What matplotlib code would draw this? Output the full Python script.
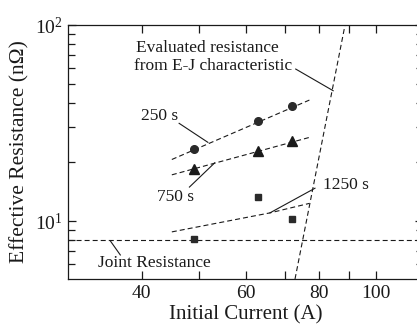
import numpy as np
import matplotlib
matplotlib.use('Agg')
import matplotlib.pyplot as plt

plt.rcParams['font.family'] = ['Liberation Serif', 'DejaVu Serif']
plt.rcParams['mathtext.fontset'] = 'custom'
plt.rcParams['mathtext.rm'] = 'Liberation Serif'
plt.rcParams['mathtext.it'] = 'Liberation Serif:italic'
plt.rcParams['lines.scale_dashes'] = False

ink = '#1a1a1a'

# measured points (initial current in A, effective resistance in nOhm)
currents = [49, 63, 72]
r_250 = [23.4, 32.3, 38.6]
r_750 = [18.5, 22.7, 25.5]
r_1250 = [8.1, 13.3, 10.2]

# guide lines through the points
fit_x = [45, 77]
fit_250 = [20.6, 41.4]
fit_750 = [17.2, 26.7]
curve_1250_x = [45, 66, 77]
curve_1250_y = [8.8, 11.0, 12.3]

# joint resistance and E-J evaluated resistance
joint_r = 8.0
ej_current = [72.8, 88.5]
ej_r = [5.06, 100]

xticks = [40, 50, 60, 70, 80, 90, 100]
xticklabels = ['40', '', '60', '', '80', '', '100']

fig = plt.figure(figsize=(4.17, 3.30), dpi=100)
ax = fig.add_axes([68 / 417, 51 / 330, 355 / 417, 254 / 330])
ax.set_xscale('log')
ax.set_yscale('log')
ax.set_xlim(30, 120)
ax.set_ylim(5.06, 100)

dash = (0, (3.6, 2.2))
ax.plot(fit_x, fit_250, ls=dash, lw=0.8, color=ink)
ax.plot(fit_x, fit_750, ls=dash, lw=0.8, color=ink)
ax.plot(curve_1250_x, curve_1250_y, ls=dash, lw=0.8, color=ink)
ax.axhline(joint_r, ls=dash, lw=0.8, color=ink)
ax.plot(ej_current, ej_r, ls=dash, lw=0.8, color=ink)

ax.plot(currents, r_250, 'o', ms=5.5, color='#2a2a2a', mec='#2a2a2a')
ax.plot(currents, r_750, '^', ms=6.5, color=ink)
ax.plot(currents, r_1250, 's', ms=5, color='#2a2a2a')

# annotations
fs = 12.5
ax.text(42.9, 34.3, '250 s', fontsize=fs, color=ink, ha='center', va='center')
ax.plot([46.3, 51.8], [31.5, 25.2], lw=0.8, color=ink)
ax.text(45.6, 13.2, '750 s', fontsize=fs, color=ink, ha='center', va='center')
ax.plot([48.2, 53.2], [14.9, 19.8], lw=0.8, color=ink)
ax.text(81.2, 15.3, '1250 s', fontsize=fs, color=ink, ha='left', va='center')
ax.plot([78.7, 66.0], [14.7, 11.0], lw=0.8, color=ink)
ax.text(51.6, 76.3, 'Evaluated resistance', fontsize=fs, color=ink, ha='center', va='center')
ax.text(52.9, 61.8, 'from E-J characteristic', fontsize=fs, color=ink, ha='center', va='center')
ax.plot([73.0, 84.5], [59.6, 46.2], lw=0.8, color=ink)
ax.text(42.0, 6.08, 'Joint Resistance', fontsize=fs, color=ink, ha='center', va='center')
ax.plot([35.4, 36.8], [7.91, 6.71], lw=0.8, color=ink)

ax.set_xticks(xticks)
ax.set_xticklabels(xticklabels)
ax.xaxis.set_minor_locator(matplotlib.ticker.NullLocator())
ax.set_yticks([10, 100])
ax.set_yticklabels([r'$10^1$', r'$10^2$'])
ax.yaxis.set_minor_locator(matplotlib.ticker.LogLocator(subs=np.arange(2, 10)))
ax.yaxis.set_minor_formatter(matplotlib.ticker.NullFormatter())
ax.tick_params(which='both', direction='in', top=True, right=True,
               color=ink, labelcolor=ink, labelsize=14, width=0.9)
ax.tick_params(which='major', length=6, pad=4)
ax.tick_params(which='minor', length=5)

for s in ax.spines.values():
    s.set_linewidth(0.9)
    s.set_color(ink)

ax.set_xlabel('Initial Current (A)', fontsize=15, color=ink, labelpad=3)
ax.set_ylabel('Effective Resistance (nΩ)', fontsize=15.5, color=ink, labelpad=4)

fig.savefig('out.png', dpi=100)
